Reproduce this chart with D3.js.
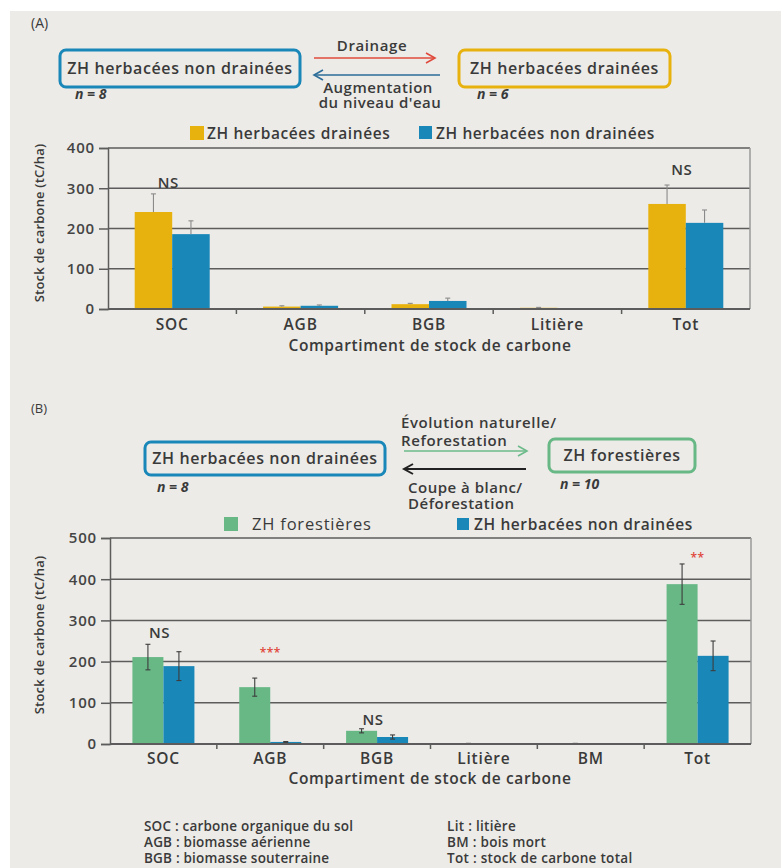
<!DOCTYPE html>
<html><head><meta charset="utf-8">
<script src="https://cdn.jsdelivr.net/npm/d3@7"></script>
<style>
html,body{margin:0;padding:0;background:#fff;}
svg text{font-family:"Open Sans","Noto Sans",sans-serif;fill:#3a3a3a;}
</style></head>
<body>
<svg id="c" width="781" height="868"></svg>
<script>
// ---------- DATA ----------
const catsA = ["SOC", "AGB", "BGB", "Litière", "Tot"];
const seriesA = ["ZH herbacées drainées", "ZH herbacées non drainées"];
const draineesA = [241, 6, 12, 3, 261];
const draineesErrA = [45, 2, 2, 1, 47];
const nonDraineesA = [186, 8, 20, 0, 214];
const nonDraineesErrA = [33, 2, 7, 0, 32];
const sigA = ["NS", "", "", "", "NS"];
const sigLevelA = [313, 0, 0, 0, 345];
const ticksA = [0, 100, 200, 300, 400];

const catsB = ["SOC", "AGB", "BGB", "Litière", "BM", "Tot"];
const seriesB = ["ZH forestières", "ZH herbacées non drainées"];
const forestB = [211, 138, 32, 1, 1, 388];
const forestErrB = [31, 22, 5, 0.5, 0.5, 49];
const nonDraineesB = [189, 5, 17, 0, 0, 214];
const nonDraineesErrB = [35, 1, 5, 0, 0, 36];
const sigB = ["NS", "***", "NS", "", "", "**"];
const sigLevelB = [270, 223, 58, 0, 0, 454];
const sigColorB = ["#3a3a3a", "#e0453a", "#3a3a3a", "", "", "#e0453a"];
const ticksB = [0, 100, 200, 300, 400, 500];

const notesLeft = ["SOC : carbone organique du sol", "AGB : biomasse aérienne", "BGB :  biomasse souterraine"];
const notesRight = ["Lit : litière", "BM : bois mort", "Tot : stock de carbone total"];

// ---------- STYLE ----------
const YELLOW = "#e8b20e", BLUE = "#1a87b9", GREEN = "#68b886";
const BG = "#ecebe7", GRID = "#5c5c5c";

const svg = d3.select("#c");
svg.append("rect").attr("x", 10).attr("y", 11).attr("width", 771).attr("height", 857).attr("fill", BG);

function arrow(g, x1, x2, y, color, dir, w) {
  g.append("line").attr("x1", x1).attr("x2", x2).attr("y1", y).attr("y2", y)
    .attr("stroke", color).attr("stroke-width", w);
  const tip = dir > 0 ? x2 : x1;
  g.append("path").attr("d", `M${tip - dir * 9},${y - 5} L${tip},${y} L${tip - dir * 9},${y + 5}`)
    .attr("fill", "none").attr("stroke", color).attr("stroke-width", w);
}

function box(x, y, w, h, color, label, fs) {
  svg.append("rect").attr("x", x).attr("y", y).attr("width", w).attr("height", h).attr("rx", 6)
    .attr("fill", "none").attr("stroke", color).attr("stroke-width", 3);
  svg.append("text").attr("x", x + w / 2).attr("y", y + h / 2 + 5.5).attr("text-anchor", "middle")
    .attr("font-size", fs).attr("font-weight", 600).attr("letter-spacing", 0.6).text(label);
}
function txt(x, y, s, opts = {}) {
  const t = svg.append("text").attr("x", x).attr("y", y).text(s)
    .attr("font-size", opts.fs || 13).attr("font-weight", opts.fw || 600)
    .attr("letter-spacing", opts.ls || 0)
    .attr("text-anchor", opts.anchor || "start");
  if (opts.italic) t.attr("font-style", "italic");
  if (opts.fill) t.style("fill", opts.fill);
  return t;
}

// ---------- DIAGRAM A ----------
txt(31, 28, "(A)", {fs: 14, fw: 400});
box(60, 50, 240, 37, BLUE, "ZH herbacées non drainées", 16);
box(459, 50, 211, 37, YELLOW, "ZH herbacées drainées", 16);
txt(75, 99, "n = 8", {italic: true, fs: 14, fw: 700});
txt(477, 99, "n = 6", {italic: true, fs: 14, fw: 700});
txt(372, 51, "Drainage", {anchor: "middle", fs: 15, ls: 0.6});
arrow(svg, 314, 435, 58, "#e04a3c", 1, 1.6);
arrow(svg, 314, 440, 75, "#2d6d99", -1, 1.6);
txt(378, 93, "Augmentation", {anchor: "middle", fs: 15, ls: 0.5});
txt(380, 108, "du niveau d'eau", {anchor: "middle", fs: 15, ls: 0.5});

// ---------- DIAGRAM B ----------
txt(31, 413, "(B)", {fs: 13, fw: 400});
box(145, 442, 240, 33, BLUE, "ZH herbacées non drainées", 16);
box(549, 439, 146, 33, GREEN, "ZH forestières", 16);
txt(157, 492, "n = 8", {italic: true, fs: 14, fw: 700});
txt(560, 489, "n = 10", {italic: true, fs: 14, fw: 700});
txt(401, 428, "Évolution naturelle/", {fs: 15, ls: 0.6});
txt(401, 446, "Reforestation", {fs: 15, ls: 0.6});
arrow(svg, 404, 527, 451, "#6dbb8a", 1, 1.6);
arrow(svg, 404, 526, 469, "#222", -1, 2);
txt(408, 493, "Coupe à blanc/", {fs: 15, ls: 0.5});
txt(408, 509, "Déforestation", {fs: 15, ls: 0.5});

// ---------- BAR CHART ----------
function barChart(cfg) {
  const g = svg.append("g");
  const x = d3.scaleBand().domain(cfg.cats).range([cfg.x0, cfg.x1]).paddingInner(0).paddingOuter(0);
  const y = d3.scaleLinear().domain([0, cfg.ymax]).range([cfg.y0, cfg.y1]);
  const inner = d3.scaleBand().domain([0, 1]).range([0, cfg.barW * 2]);

  // grid
  g.selectAll(".grid").data(cfg.ticks.slice(1)).join("line")
    .attr("x1", cfg.x0).attr("x2", cfg.x1).attr("y1", d => y(d)).attr("y2", d => y(d))
    .attr("stroke", GRID).attr("stroke-width", 1.5);
  g.append("line").attr("x1", cfg.x1).attr("x2", cfg.x1).attr("y1", y(cfg.ymax)).attr("y2", cfg.y0)
    .attr("stroke", "#9a9a9a").attr("stroke-width", 1.5);

  // bars
  const series = [cfg.s0, cfg.s1], errs = [cfg.e0, cfg.e1], cols = [cfg.c0, cfg.c1];
  series.forEach((vals, si) => {
    const data = cfg.cats.map((c, i) => ({c, v: vals[i], e: errs[si][i]}));
    const bx = d => x(d.c) + x.bandwidth() / 2 - cfg.barW + inner(si);
    g.selectAll(".bar" + si).data(data).join("rect")
      .attr("x", bx).attr("width", cfg.barW)
      .attr("y", d => y(d.v)).attr("height", d => cfg.y0 - y(d.v)).attr("fill", cols[si]);
    const eg = g.selectAll(".err" + si).data(data.filter(d => d.e > 0)).join("g");
    const cx = d => bx(d) + cfg.barW / 2;
    eg.append("line").attr("x1", cx).attr("x2", cx)
      .attr("y1", d => y(cfg.full ? d.v - d.e : d.v)).attr("y2", d => y(d.v + d.e))
      .attr("stroke", cfg.errColor).attr("stroke-width", 1.1);
    eg.append("line").attr("x1", d => cx(d) - 2.5).attr("x2", d => cx(d) + 2.5)
      .attr("y1", d => y(d.v + d.e)).attr("y2", d => y(d.v + d.e))
      .attr("stroke", cfg.errColor).attr("stroke-width", 1.1);
    if (cfg.full) {
      eg.append("line").attr("x1", d => cx(d) - 2.5).attr("x2", d => cx(d) + 2.5)
        .attr("y1", d => y(d.v - d.e)).attr("y2", d => y(d.v - d.e))
        .attr("stroke", cfg.errColor).attr("stroke-width", 1.1);
    }
  });

  // axes
  const yAxis = d3.axisLeft(y).tickValues(cfg.ticks).tickSize(9).tickPadding(4);
  const ya = g.append("g").attr("transform", `translate(${cfg.x0},0)`).call(yAxis);
  ya.select(".domain").attr("stroke", GRID).attr("stroke-width", 1.5);
  ya.selectAll(".tick line").attr("stroke", GRID).attr("stroke-width", 1.5);
  ya.selectAll(".tick text").attr("font-size", 15).attr("font-weight", 600).attr("letter-spacing", 0.8)
    .attr("font-family", "'Open Sans',sans-serif").style("fill", "#444");

  g.append("line").attr("x1", cfg.x0).attr("x2", cfg.x1).attr("y1", cfg.y0).attr("y2", cfg.y0)
    .attr("stroke", GRID).attr("stroke-width", 1.8);
  g.selectAll(".xt").data(cfg.cats.slice(1)).join("line")
    .attr("x1", d => x(d)).attr("x2", d => x(d)).attr("y1", cfg.y0).attr("y2", cfg.y0 + 5)
    .attr("stroke", GRID).attr("stroke-width", 1.5);
  g.selectAll(".xl").data(cfg.cats).join("text")
    .attr("x", d => x(d) + x.bandwidth() / 2).attr("y", cfg.labY)
    .attr("text-anchor", "middle").attr("font-size", 15.5).attr("font-weight", 600)
    .attr("letter-spacing", 0.8).text(d => d);

  // significance
  g.selectAll(".sig").data(cfg.cats.map((c, i) => ({c, s: cfg.sig[i], l: cfg.sigLevel[i], col: cfg.sigColor ? cfg.sigColor[i] : "#3a3a3a"})).filter(d => d.s))
    .join("text").attr("x", d => x(d.c) + x.bandwidth() / 2 - (d.s === "NS" ? 4 : 0))
    .attr("y", d => y(d.l) + 5).attr("text-anchor", "middle")
    .attr("font-size", d => d.s === "NS" ? 15 : 12).attr("font-weight", 600)
    .attr("letter-spacing", 0.5)
    .style("fill", d => d.col).text(d => d.s);

  // titles
  g.append("text").attr("x", 430).attr("y", cfg.titleY).attr("text-anchor", "middle")
    .attr("font-size", 15.5).attr("font-weight", 600).attr("letter-spacing", 0.6)
    .text("Compartiment de stock de carbone");
  g.append("text").attr("transform", `translate(44,${cfg.yTitleC}) rotate(-90)`)
    .attr("text-anchor", "middle").attr("font-size", 13).attr("font-weight", 600)
    .attr("letter-spacing", 0.2)
    .text("Stock de carbone (tC/ha)");
}

// legends
function legend(items) {
  items.forEach(it => {
    svg.append("rect").attr("x", it.sx).attr("y", it.sy).attr("width", it.sw).attr("height", it.sw).attr("fill", it.color);
    txt(it.tx, it.ty, it.label, {fs: it.fs, fw: it.fw, ls: it.ls});
  });
}
legend([
  {sx: 190, sy: 126, sw: 14, color: YELLOW, tx: 207, ty: 139, label: seriesA[0], fw: 600, fs: 15.5, ls: 0.6},
  {sx: 419, sy: 126, sw: 13, color: BLUE, tx: 436, ty: 139, label: seriesA[1], fw: 600, fs: 15.5, ls: 0.6},
  {sx: 224, sy: 517, sw: 14, color: GREEN, tx: 252, ty: 530, label: seriesB[0], fw: 400, fs: 16.5, ls: 0.8},
  {sx: 457, sy: 518, sw: 12, color: BLUE, tx: 474, ty: 530, label: seriesB[1], fw: 600, fs: 15.5, ls: 0.6}
]);

barChart({cats: catsA, x0: 108, x1: 750, y0: 309, y1: 148, ymax: 400, ticks: ticksA, barW: 37.5,
  s0: draineesA, s1: nonDraineesA, e0: draineesErrA, e1: nonDraineesErrA, c0: YELLOW, c1: BLUE,
  full: false, errColor: "#8a8a8a", sig: sigA, sigLevel: sigLevelA, labY: 330, titleY: 351, yTitleC: 223});

barChart({cats: catsB, x0: 110, x1: 751, y0: 744, y1: 538, ymax: 500, ticks: ticksB, barW: 31,
  s0: forestB, s1: nonDraineesB, e0: forestErrB, e1: nonDraineesErrB, c0: GREEN, c1: BLUE,
  full: true, errColor: "#3d3d3d", sig: sigB, sigLevel: sigLevelB, sigColor: sigColorB,
  labY: 764, titleY: 784, yTitleC: 635});

// notes
notesLeft.forEach((s, i) => txt(144, 831 + i * 16, s, {fs: 13.5, ls: 0.2}));
notesRight.forEach((s, i) => txt(447, 831 + i * 16, s, {fs: 13.5, ls: 0.3}));
</script>
</body></html>
